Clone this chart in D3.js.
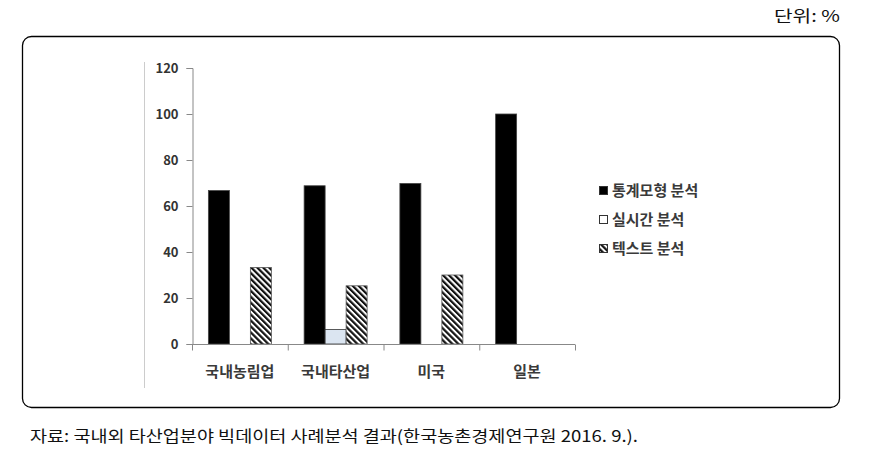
<!DOCTYPE html>
<html><head><meta charset="utf-8">
<script src="https://cdn.jsdelivr.net/npm/d3@7"></script>
<style>body{margin:0;background:#fff}svg{display:block}</style>
</head><body>
<svg id="c" width="888" height="462"></svg>
<script>
const categories = ["국내농림업", "국내타산업", "미국", "일본"];
const seriesNames = ["통계모형 분석", "실시간 분석", "텍스트 분석"];
const statModel = [66.7, 68.8, 69.8, 100];
const realTime = [0, 6.3, 0, 0];
const textAnalysis = [33.3, 25.3, 30, 0];
const yTicks = [0, 20, 40, 60, 80, 100, 120];
const unitLabel = "단위: %";
const sourceLabel = "자료: 국내외 타산업분야 빅데이터 사례분석 결과(한국농촌경제연구원 2016. 9.).";

const svg = d3.select("#c");
const defs = svg.append("defs");
const pat = defs.append("pattern").attr("id","hatch").attr("patternUnits","userSpaceOnUse")
  .attr("width",4.2).attr("height",4.2).attr("patternTransform","rotate(-45)");
pat.append("rect").attr("width",4.2).attr("height",4.2).attr("fill","#fff");
pat.append("rect").attr("width",2.2).attr("height",4.2).attr("fill","#111");

const font = "'Noto Sans CJK KR','Noto Sans',sans-serif";

// frame
svg.append("rect").attr("x",22.5).attr("y",36.5).attr("width",817).attr("height",371)
  .attr("rx",9).attr("fill","none").attr("stroke","#000").attr("stroke-width",1.3);
svg.append("text").attr("x",840).attr("y",22).attr("textLength",66).attr("lengthAdjust","spacingAndGlyphs")
  .attr("text-anchor","end")
  .attr("font-family",font).attr("font-size",16).attr("fill","#111").text(unitLabel);
svg.append("text").attr("x",30).attr("y",442).attr("textLength",608).attr("lengthAdjust","spacingAndGlyphs")
  .attr("font-family",font).attr("font-size",16).attr("fill","#111").text(sourceLabel);

// faint plot-area edge
svg.append("line").attr("x1",144.5).attr("x2",144.5).attr("y1",62).attr("y2",388)
  .attr("stroke","#ccc").attr("stroke-width",1);

const y = d3.scaleLinear().domain([0,120]).range([344,68]);

const fills = ["#000","#dbe5f1","url(#hatch)"];
const strokes = ["#444","#333","#555"];
const data = [statModel, realTime, textAnalysis];

// bars
const xs = d3.scaleBand().domain(categories).range([192,575]);
const bw = 21;
const bx = d3.scaleBand().domain(seriesNames).range([0,bw*3]);
categories.forEach((c,i)=>{
  const off = xs(c) + (xs.bandwidth()-bw*3)/2;
  seriesNames.forEach((s,j)=>{
    const v = data[j][i];
    if(v<=0) return;
    svg.append("rect").attr("x",off+bx(s)).attr("y",y(v)).attr("width",bx.bandwidth())
      .attr("height",y(0)-y(v)).attr("fill",fills[j]).attr("stroke",strokes[j]).attr("stroke-width",0.8);
  });
});

// y axis
const ya = svg.append("g").attr("transform","translate(192.5,0)")
  .call(d3.axisLeft(y).tickValues(yTicks).tickSize(6).tickPadding(8));
ya.select(".domain").attr("stroke","#888");
ya.selectAll(".tick line").attr("stroke","#888");
ya.selectAll("text").attr("font-family",font).attr("font-size",13).attr("font-weight","bold").attr("fill","#333");

// x axis
const xa = svg.append("g").attr("transform","translate(0,344.5)");
xa.append("line").attr("x1",192).attr("x2",575).attr("stroke","#888");
const bounds = [192, ...categories.map(c=>xs(c)+xs.bandwidth())];
xa.selectAll("line.t").data(bounds).enter().append("line").attr("class","t")
  .attr("x1",d=>d+0.5).attr("x2",d=>d+0.5).attr("y1",0).attr("y2",6).attr("stroke","#888");
xa.selectAll("text").data(categories).enter().append("text")
  .attr("x",d=>xs(d)+xs.bandwidth()/2).attr("y",32).attr("text-anchor","middle")
  .attr("font-family",font).attr("font-size",15).attr("font-weight","bold").attr("fill","#3a3a3a").text(d=>d);

// legend
const lg = svg.append("g").attr("transform","translate(599,186)");
seriesNames.forEach((s,j)=>{
  const g = lg.append("g").attr("transform",`translate(0,${j*29})`);
  g.append("rect").attr("x",0.5).attr("y",0.5).attr("width",8).attr("height",8)
    .attr("fill",fills[j]==="#dbe5f1"?"#fff":fills[j]).attr("stroke","#333").attr("stroke-width",1);
  g.append("text").attr("x",13).attr("y",10).attr("font-family",font).attr("font-size",15)
    .attr("font-weight","bold").attr("fill","#3a3a3a").text(s);
});
</script>
</body></html>
